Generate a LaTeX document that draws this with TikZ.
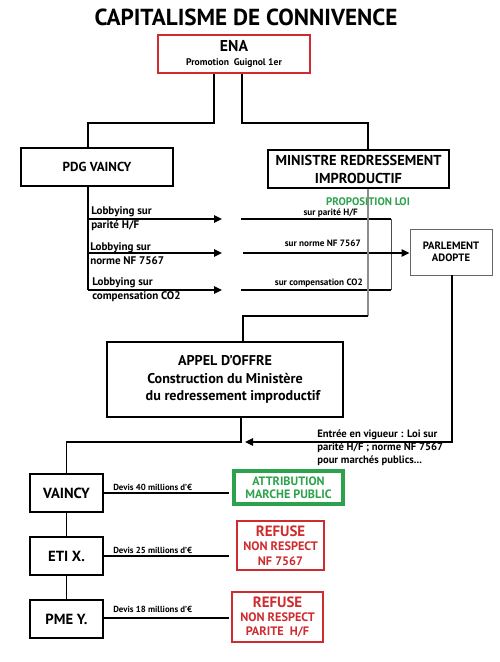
\documentclass[tikz,border=0pt]{standalone}
\usepackage{fontspec}
\setmainfont{PT Sans}
\usetikzlibrary{arrows.meta}
\definecolor{redB}{RGB}{206,44,46}
\definecolor{greenB}{RGB}{44,162,76}
\begin{document}
\begin{tikzpicture}[x=0.75pt,y=-0.75pt,
  every node/.style={inner sep=0pt, align=center},
  fs/.style 2 args={font=\fontsize{#1}{#2}\selectfont\bfseries},
  bbox/.style={draw=black, line width=1.6pt},
  sz/.style 2 args={minimum width=#1*0.75pt, minimum height=#2*0.75pt},
  conn/.style={draw=black, line width=1.1pt},
  thinconn/.style={draw=black!70, line width=0.7pt},
  grayconn/.style={draw=black!45, line width=1pt},
  tip/.style={-{Triangle[length=6pt,width=5.5pt]}}]
\useasboundingbox (0,0) rectangle (500,662);
\fill[white] (0,0) rectangle (500,662);

% title
\node[fs={17.4}{20}] (title) at (246,17) {CAPITALISME DE CONNIVENCE};

% boxes
\node[draw=redB, line width=2.2pt, sz={152}{38}, fs={11.8}{10.5}] (ena) at (234,54)
  {ENA\\{\fontsize{7.2}{10.5}\selectfont Promotion\ \ Guignol 1er}};
\node[bbox, sz={152}{38}, fs={9.8}{12}] (pdg) at (97,167) {PDG VAINCY};
\node[bbox, sz={181}{38}, fs={10.8}{13.5}] (min) at (358.5,169) {MINISTRE REDRESSEMENT\\IMPRODUCTIF};
\node[draw=black!60, line width=0.7pt, sz={82}{46}, fs={8}{9}] (parl) at (451,252) {PARLEMENT\\ADOPTE};
\node[bbox, sz={236}{75}, fs={10.6}{13}] (appel) at (225,379.5)
  {APPEL D’OFFRE\\Construction du Ministère\\\hspace*{12pt}du redressement improductif};
\node[bbox, sz={73}{38}, fs={11}{12}] (vaincy) at (66.5,493) {VAINCY};
\node[bbox, sz={73}{38}, fs={11}{12}] (eti) at (66.5,556) {ETI X.};
\node[bbox, sz={73}{38}, fs={11}{12}] (pme) at (66.5,619) {PME Y.};
\node[draw=greenB, line width=2.4pt, text=greenB, sz={109}{33}, fs={9.1}{9.8}] (attr) at (288.5,487.5)
  {ATTRIBUTION\\MARCHE PUBLIC};
\node[draw=redB, line width=2pt, text=redB, sz={87}{49}, fs={9.2}{10.8}] (ref1) at (280.5,545.5)
  {{\fontsize{11.2}{10.8}\selectfont REFUSE}\\NON RESPECT\\NF 7567};
\node[draw=redB, line width=2pt, text=redB, sz={91}{50}, fs={9.2}{10.8}] (ref2) at (277.5,617)
  {{\fontsize{11.2}{10.8}\selectfont REFUSE}\\NON RESPECT\\PARITE\ \ H/F};

% labels
\node[fs={8.3}{10}, anchor=west, align=left] (lob1) at (91,218.5) {Lobbying sur\\parité H/F};
\node[fs={8.3}{10}, anchor=west, align=left] (lob2) at (90,253.5) {Lobbying sur\\norme NF 7567};
\node[fs={8.3}{10}, anchor=west, align=left] (lob3) at (92,289.5) {Lobbying sur\\compensation CO2};
\node[fs={8.2}{9}, text=greenB] (prop) at (368,202) {PROPOSITION LOI};
\node[fs={6.9}{7}, anchor=east] (s1) at (358,213) {sur parité H/F};
\node[fs={6.9}{7}, anchor=east] (s2) at (361,243) {sur norme NF 7567};
\node[fs={6.9}{7}, anchor=east] (s3) at (363,283) {sur compensation CO2};
\node[fs={8}{9.75}, anchor=west, align=left] (entree) at (317,448)
  {Entrée en vigueur : Loi sur\\parité H/F ; norme NF 7567\\pour marchés publics...};
\node[fs={6.6}{7}, anchor=west] (d1) at (113,487) {Devis 40 millions d’€};
\node[fs={6.6}{7}, anchor=west] (d2) at (113,550) {Devis 25 millions d’€};
\node[fs={6.6}{7}, anchor=west] (d3) at (113,609) {Devis 18 millions d’€};

% coordinates
\coordinate (eL) at (214,123);
\coordinate (eR) at (242,123);
\coordinate (pL) at (88,0);
\coordinate (mR) at (368,0);
\coordinate (pB) at (88,290);
\coordinate (a1) at (222,219);
\coordinate (a2) at (222,253);
\coordinate (a3) at (222,290);
\coordinate (r1) at (241,219);
\coordinate (r2) at (243,253);
\coordinate (r3) at (241,290);
\coordinate (bk) at (391,0);
\coordinate (g) at (368,316);
\coordinate (aT) at (243,0);
\coordinate (pd) at (452,442);
\coordinate (pt) at (245,442);
\coordinate (ad) at (241,442);
\coordinate (h1) at (229,493);
\coordinate (h2) at (229,556);
\coordinate (h3) at (229,618);

% connectors
\draw[conn] (ena.south -| eL) -- (eL) -| (pdg.north -| pL);
\draw[conn] (ena.south -| eR) -- (eR) -| (min.north -| mR);
\draw[conn] (pdg.south -| pL) -- (pB);
\draw[conn,tip] (a1 -| pL) -- (a1);
\draw[conn,tip] (a2 -| pL) -- (a2);
\draw[conn,tip] (pB) -- (a3);
\draw[conn] (r1) -- (r1 -| bk);
\draw[conn] (r3) -- (r3 -| bk);
\draw[thinconn] (r1 -| bk) -- (r3 -| bk);
\draw[conn,tip] (r2) -- (r2 -| parl.west);
\draw[grayconn] (min.south -| g) -- (g);
\draw[conn] (g) -| (appel.north -| aT);
\draw[conn,tip] (parl.south -| pd) -- (pd) -- (pt);
\draw[conn] (appel.south -| ad) -- (ad) -| (vaincy.north);
\draw[conn] (vaincy.south) -- (eti.north);
\draw[conn] (eti.south) -- (pme.north);
\draw[conn] (vaincy.east) -- (h1);
\draw[conn] (eti.east) -- (h2);
\draw[conn] (pme.east |- h3) -- (h3);
\end{tikzpicture}
\end{document}
